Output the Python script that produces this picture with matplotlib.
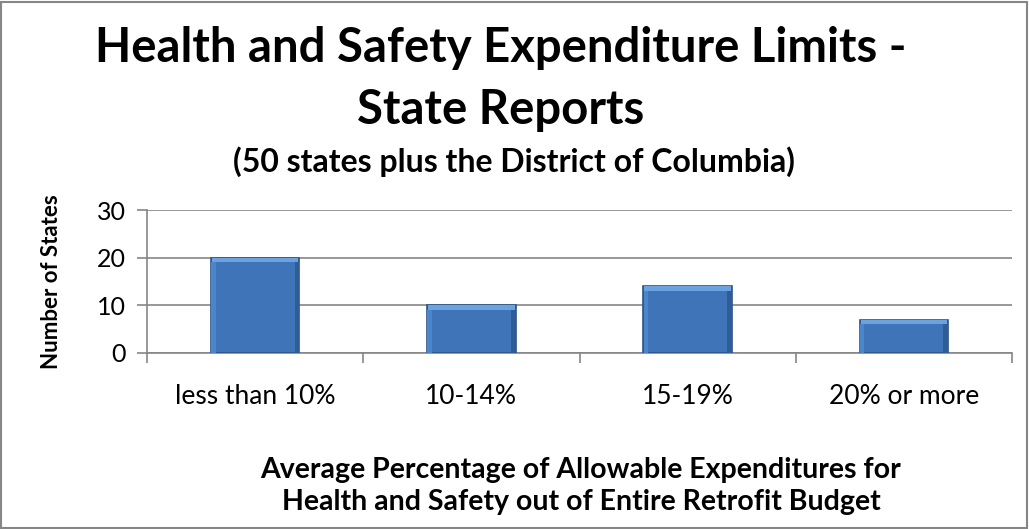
import matplotlib.pyplot as plt
from matplotlib.patches import Rectangle
import numpy as np

# datos del gráfico
categorias = ['less than 10%', '10-14%', '15-19%', '20% or more']
num_estados = [20, 10, 14, 7]
y_ticks = [0, 10, 20, 30]

plt.rcParams['font.family'] = ['Lato', 'DejaVu Sans']

fig = plt.figure(figsize=(10.29, 5.29), dpi=100)
ax = fig.add_axes([147 / 1029, 1 - 353 / 529, 865 / 1029, 143 / 529])

x = np.arange(len(categorias))
ancho = 0.41
ax.bar(x, num_estados, width=ancho, color='#3f74b8', edgecolor='#2b5486', linewidth=1.2, zorder=3)
# biselado: franja clara arriba y laterales oscuros
ax.bar(x, 0.9, bottom=[v - 0.9 for v in num_estados], width=ancho - 0.01,
       color='#6aa3e0', edgecolor='none', zorder=4)
ax.bar(x - ancho / 2 + 0.012, [v - 0.9 for v in num_estados], width=0.02,
       color='#4a86cc', edgecolor='none', zorder=4)
ax.bar(x + ancho / 2 - 0.012, [v - 0.9 for v in num_estados], width=0.02,
       color='#2f5d97', edgecolor='none', zorder=4)

ax.set_xlim(-0.5, len(categorias) - 0.5)
ax.set_ylim(0, 30)
ax.set_yticks(y_ticks)
ax.set_yticklabels([str(v) for v in y_ticks], fontsize=18)
ax.set_xticks(x)
ax.set_xticklabels(categorias, fontsize=19)
ax.tick_params(axis='x', length=0, pad=22)
ax.set_xticks(np.arange(len(categorias) + 1) - 0.5, minor=True)
ax.tick_params(axis='x', which='minor', length=7, color='#868686', width=1.2)
ax.tick_params(axis='y', length=7, color='#868686', width=1.2, pad=8)
ax.grid(axis='y', color='#868686', linewidth=1.2, zorder=0)
for s in ['top', 'right']:
    ax.spines[s].set_visible(False)
for s in ['left', 'bottom']:
    ax.spines[s].set_color('#868686')
    ax.spines[s].set_linewidth(1.2)

ax.set_ylabel('Number of States', fontsize=16, fontweight='bold')
ax.yaxis.set_label_coords(-85 / 865, 0.5)

fig.text(501 / 1029, 1 - 48 / 529, 'Health and Safety Expenditure Limits -', fontsize=34,
         fontweight='bold', ha='center', va='center')
fig.text(501 / 1029, 1 - 110 / 529, 'State Reports', fontsize=34,
         fontweight='bold', ha='center', va='center')
fig.text(514 / 1029, 1 - 162 / 529, '(50 states plus the District of Columbia)', fontsize=23,
         fontweight='bold', ha='center', va='center')
fig.text(581 / 1029, 1 - 486 / 529,
         'Average Percentage of Allowable Expenditures for\nHealth and Safety out of Entire Retrofit Budget',
         fontsize=20.5, fontweight='bold', ha='center', va='center', linespacing=1.3)

fig.patches.append(Rectangle((0.001, 0.002), 0.997, 0.995, transform=fig.transFigure,
                             fill=False, edgecolor='#868686', linewidth=1.5))

fig.savefig('out.png', dpi=100)
